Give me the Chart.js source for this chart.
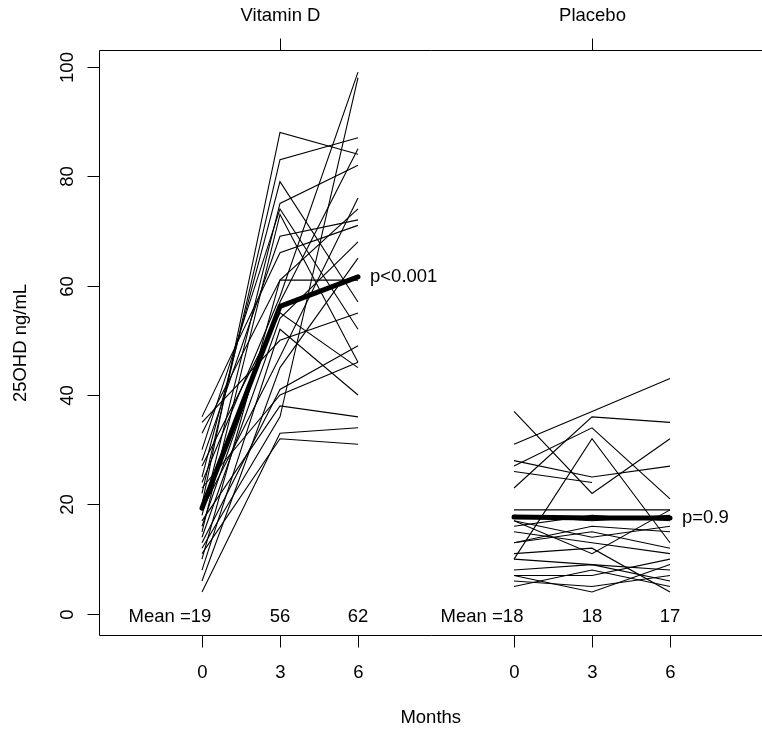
<!DOCTYPE html>
<html>
<head>
<meta charset="utf-8">
<script src="https://cdn.jsdelivr.net/npm/chart.js@4/dist/chart.umd.min.js"></script>
<style>
    html, body { margin: 0; padding: 0; background: #fff; }
    canvas { display: block; }
</style>
</head>
<body>
<canvas id="chart" width="762" height="733"></canvas>
<script>
// months of follow-up, shared by both groups
const months = [0, 3, 6];
const yTicks = [0, 20, 40, 60, 80, 100];
const groupNames = ['Vitamin D', 'Placebo'];

// vitamin D group, one value per subject
const vitD_m0 = [20, 22, 25, 18, 30, 15, 28, 36, 33, 10, 24, 16, 27, 14, 8, 35, 19, 6, 13, 23, 12, 4, 11, 17];
const vitD_m3 = [88, 83, 79, 75, 74, 73, 69, 66, 61, 61, 58, 57, 55, 54, 52, 50, 47, 45, 41, 40, 36, 33, 32, 38];
const vitD_m6 = [84, 87, 57, 82, 52, 46, 72, 71, 61, 74, 99, 85, 45, 68, 40, 55, 76, 65, 49, 46, 98, 34, 31, 36];
const vitD_mean = [19.3, 56.2, 61.6];
const vitD_meanText = ['Mean =19', '56', '62'];
const vitD_p = 'p<0.001';

// placebo group
const plac_m0 = [31, 37, 10, 27, 26, 28, 23, 19, 18, 17, 16, 15, 17, 13, 10, 7, 8, 6, 5, 7, 13, 11];
const plac_m3 = [37, 22, 32, 34, 24, 25, 36, 19, 17, 14, 18, 13, 11, 15, 9, 7, 9, 5, 8, 4, 16, 12];
const plac_m6 = [43, 32, 13, 21, null, 27, 35, 19, 18, 16, 17, 11, 19, 12, 8, 10, 6, 7, 5, 9, 15, 4];
const plac_mean = [17.7, 17.5, 17.5];
const plac_meanText = ['Mean =18', '18', '17'];
const plac_p = 'p=0.9';

const PLACEBO_SHIFT = 12;   // placebo drawn to the right of vitamin D on the month axis
const FONT = '18.5px "Liberation Sans", Arial, sans-serif';

function subjectLines(m0, m3, m6, shift) {
    return m0.map((v, i) => ({
        data: [m0[i], m3[i], m6[i]].map((y, k) => ({ x: months[k] + shift, y: y })),
        borderColor: '#000',
        borderWidth: 1.1,
        pointRadius: 0,
        fill: false,
        tension: 0,
        order: 1
    }));
}

function meanLine(vals, shift) {
    return {
        data: vals.map((y, k) => ({ x: months[k] + shift, y: y })),
        borderColor: '#000',
        borderWidth: 5,
        borderCapStyle: 'round',
        borderJoinStyle: 'round',
        pointRadius: 0,
        fill: false,
        tension: 0,
        order: 0
    };
}

const datasets = [
    ...subjectLines(vitD_m0, vitD_m3, vitD_m6, 0),
    ...subjectLines(plac_m0, plac_m3, plac_m6, PLACEBO_SHIFT),
    meanLine(vitD_mean, 0),
    meanLine(plac_mean, PLACEBO_SHIFT)
];

// R-like box, ticks and labels, drawn from the chart scales
const rAxes = {
    id: 'rAxes',
    beforeDraw(chart) {
        const c = chart.ctx;
        c.save();
        c.fillStyle = '#fff';
        c.fillRect(0, 0, chart.width, chart.height);
        c.restore();
    },
    afterDraw(chart) {
        const c = chart.ctx, sx = chart.scales.x, sy = chart.scales.y, a = chart.chartArea;
        const px = v => Math.round(sx.getPixelForValue(v)) + 0.5;
        const py = v => Math.round(sy.getPixelForValue(v)) + 0.5;
        c.save();
        c.strokeStyle = '#000';
        c.fillStyle = '#000';
        c.lineWidth = 1;
        c.font = FONT;

        c.beginPath();
        c.moveTo(chart.width + 2, a.top);
        c.lineTo(a.left, a.top);
        c.lineTo(a.left, a.bottom);
        c.lineTo(chart.width + 2, a.bottom);
        c.stroke();

        c.textAlign = 'center';
        c.textBaseline = 'middle';

        // bottom month axis
        [0, PLACEBO_SHIFT].forEach(shift => {
            months.forEach(m => {
                const x = px(m + shift);
                c.beginPath(); c.moveTo(x, a.bottom); c.lineTo(x, a.bottom + 12); c.stroke();
                c.fillText(String(m), x, a.bottom + 37);
            });
        });
        c.fillText('Months', (a.left + chart.width) / 2, 718);

        // top group axis
        groupNames.forEach((g, i) => {
            const x = px(months[1] + i * PLACEBO_SHIFT);
            c.beginPath(); c.moveTo(x, a.top); c.lineTo(x, a.top - 12); c.stroke();
            c.fillText(g, x, a.top - 35);
        });

        // y axis
        yTicks.forEach(t => {
            const y = py(t);
            c.beginPath(); c.moveTo(a.left, y); c.lineTo(a.left - 12, y); c.stroke();
            c.save();
            c.translate(a.left - 32, y);
            c.rotate(-Math.PI / 2);
            c.fillText(String(t), 0, 0);
            c.restore();
        });
        c.save();
        c.translate(21, (a.top + a.bottom) / 2);
        c.rotate(-Math.PI / 2);
        c.fillText('25OHD ng/mL', 0, 0);
        c.restore();

        // group means along the bottom
        const meanRow = (texts, shift) => texts.forEach((t, k) => {
            const xv = k === 0 ? months[0] + shift - 1.23 : months[k] + shift;
            c.fillText(t, sx.getPixelForValue(xv), sy.getPixelForValue(0) + 3);
        });
        meanRow(vitD_meanText, 0);
        meanRow(plac_meanText, PLACEBO_SHIFT);

        c.textAlign = 'left';
        c.fillText(vitD_p, sx.getPixelForValue(months[2]) + 12, sy.getPixelForValue(vitD_mean[2]));
        c.fillText(plac_p, sx.getPixelForValue(months[2] + PLACEBO_SHIFT) + 12, sy.getPixelForValue(plac_mean[2]));
        c.restore();
    }
};

new Chart(document.getElementById('chart'), {
    type: 'line',
    data: { datasets },
    options: {
        responsive: false,
        animation: false,
        events: [],
        layout: { padding: { left: 99.5, top: 50.5, right: 0, bottom: 97.5 } },
        plugins: { legend: { display: false }, tooltip: { enabled: false } },
        scales: {
            x: { type: 'linear', display: false, min: -3.942, max: 21.538 },
            y: { type: 'linear', display: false, min: -3.96, max: 102.96 }
        }
    },
    plugins: [rAxes]
});
</script>
</body>
</html>
